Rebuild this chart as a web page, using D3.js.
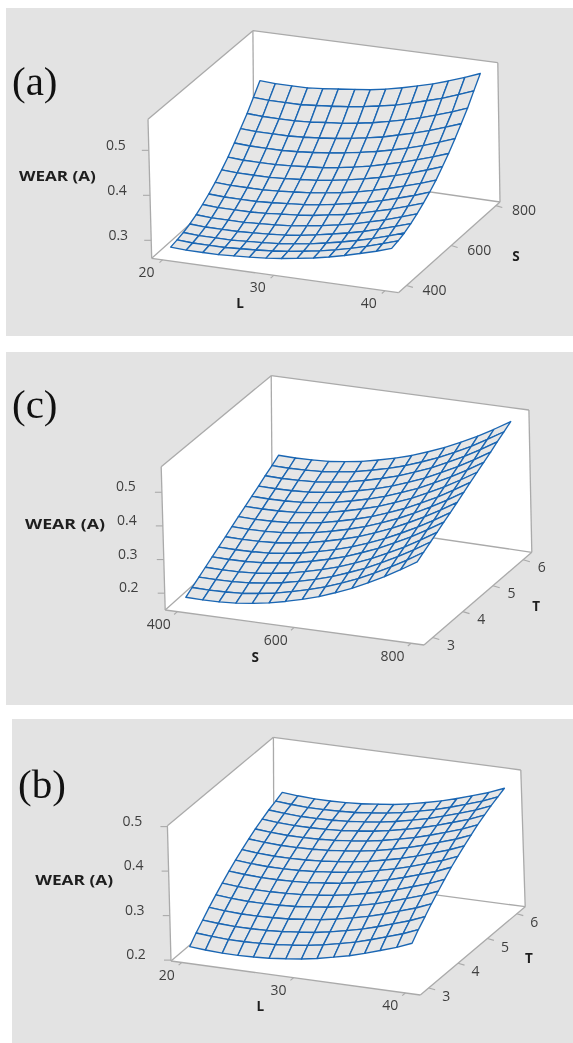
<!DOCTYPE html>
<html><head><meta charset="utf-8">
<script src="https://d3js.org/d3.v7.min.js"></script>
<style>html,body{margin:0;padding:0;background:#fff}svg{display:block}</style>
</head><body><svg id="c" width="573" height="1043"></svg>
<script>
const gridL=[20,21.4,22.9,24.3,25.7,27.1,28.6,30,31.4,32.9,34.3,35.7,37.1,38.6,40];
const gridS=[400,429,457,486,514,543,571,600,629,657,686,714,743,771,800];
const gridT=[3,3.21,3.43,3.64,3.86,4.07,4.29,4.5,4.71,4.93,5.14,5.36,5.57,5.79,6];
const ticksL=[20,30,40], ticksS=[400,600,800], ticksT=[3,4,5,6];
const ticksWearA=[0.3,0.4,0.5], ticksWear=[0.2,0.3,0.4,0.5];

// WEAR (A) over L (columns) and S (rows, 400 -> 800)
const wearLS=[
[.272,.270,.270,.270,.272,.274,.277,.281,.286,.292,.299,.307,.316,.326,.337],
[.275,.273,.273,.273,.275,.277,.280,.284,.289,.295,.302,.310,.319,.330,.341],
[.279,.277,.277,.277,.279,.281,.284,.288,.293,.300,.307,.315,.324,.335,.346],
[.285,.283,.283,.283,.285,.287,.290,.294,.300,.307,.314,.322,.332,.343,.354],
[.293,.291,.291,.291,.293,.295,.298,.303,.308,.315,.322,.331,.340,.352,.363],
[.303,.301,.301,.301,.303,.306,.309,.313,.319,.325,.333,.342,.351,.363,.374],
[.314,.312,.312,.312,.314,.317,.320,.324,.330,.337,.344,.353,.363,.374,.386],
[.327,.325,.325,.325,.327,.330,.333,.338,.343,.350,.358,.367,.377,.388,.400],
[.342,.340,.340,.340,.342,.345,.348,.353,.359,.366,.374,.383,.393,.405,.417],
[.358,.356,.356,.356,.358,.361,.364,.369,.375,.382,.391,.400,.410,.422,.434],
[.377,.375,.375,.375,.377,.380,.384,.389,.395,.402,.410,.419,.429,.442,.454],
[.397,.395,.395,.395,.397,.400,.404,.409,.415,.422,.431,.440,.450,.463,.475],
[.418,.416,.416,.416,.418,.422,.425,.430,.436,.444,.452,.461,.472,.484,.497],
[.442,.440,.440,.440,.443,.446,.450,.455,.461,.468,.477,.487,.497,.510,.523],
[.467,.465,.465,.465,.468,.472,.476,.480,.486,.494,.503,.512,.523,.536,.549]];

// WEAR (A) over S (columns) and T (rows, 3 -> 6)
const wearST=[
[.170,.169,.170,.173,.179,.187,.198,.211,.226,.244,.264,.287,.312,.339,.369],
[.182,.181,.182,.185,.191,.199,.210,.223,.238,.256,.276,.299,.324,.351,.381],
[.195,.194,.195,.198,.204,.212,.223,.236,.251,.269,.289,.312,.337,.364,.394],
[.207,.206,.207,.210,.216,.224,.235,.248,.263,.281,.301,.324,.349,.376,.406],
[.220,.219,.220,.223,.229,.237,.248,.261,.276,.294,.314,.337,.362,.389,.419],
[.232,.231,.232,.235,.241,.249,.260,.273,.288,.306,.326,.349,.374,.401,.431],
[.245,.244,.245,.248,.254,.262,.273,.286,.301,.319,.339,.362,.387,.414,.444],
[.258,.257,.258,.261,.267,.275,.286,.299,.314,.332,.352,.375,.400,.427,.457],
[.271,.270,.271,.274,.280,.288,.299,.312,.327,.345,.365,.388,.413,.440,.470],
[.284,.283,.284,.287,.293,.301,.312,.325,.340,.358,.378,.401,.426,.453,.483],
[.297,.296,.297,.300,.306,.314,.325,.338,.353,.371,.391,.414,.439,.466,.496],
[.310,.309,.310,.313,.319,.327,.338,.351,.366,.384,.404,.427,.452,.479,.509],
[.324,.323,.324,.327,.333,.341,.352,.365,.380,.398,.418,.441,.466,.493,.523],
[.337,.336,.337,.340,.346,.354,.365,.378,.393,.411,.431,.454,.479,.506,.536],
[.351,.350,.351,.354,.360,.368,.379,.392,.407,.425,.445,.468,.493,.520,.550]];

// WEAR (A) over L (columns) and T (rows, 3 -> 6)
const wearLT=[
[.218,.215,.213,.213,.214,.216,.220,.224,.230,.238,.246,.256,.267,.279,.293],
[.236,.233,.231,.231,.232,.234,.238,.242,.248,.256,.264,.274,.285,.297,.311],
[.252,.249,.247,.247,.248,.250,.254,.258,.264,.272,.280,.290,.301,.313,.327],
[.268,.265,.263,.263,.264,.266,.270,.274,.280,.288,.296,.306,.317,.329,.343],
[.283,.280,.278,.278,.279,.281,.285,.289,.295,.303,.311,.321,.332,.344,.358],
[.297,.294,.292,.292,.293,.295,.299,.303,.309,.317,.325,.335,.346,.358,.372],
[.311,.308,.306,.306,.307,.309,.313,.317,.323,.331,.339,.349,.360,.372,.386],
[.323,.320,.318,.318,.319,.321,.325,.329,.335,.343,.351,.361,.372,.384,.398],
[.334,.331,.329,.329,.330,.332,.336,.340,.346,.354,.362,.372,.383,.395,.409],
[.345,.342,.340,.340,.341,.343,.347,.351,.357,.365,.373,.383,.394,.406,.420],
[.355,.352,.350,.350,.351,.353,.357,.361,.367,.375,.383,.393,.404,.416,.430],
[.364,.361,.359,.359,.360,.362,.366,.370,.376,.384,.392,.402,.413,.425,.439],
[.372,.369,.367,.367,.368,.370,.374,.378,.384,.392,.400,.410,.421,.433,.447],
[.379,.376,.374,.374,.375,.377,.381,.385,.391,.399,.407,.417,.428,.440,.454],
[.386,.383,.381,.381,.382,.384,.388,.392,.398,.406,.414,.424,.435,.447,.461]];

const panels=[
 {tag:"(a)",tagXY:[12,95],bg:[6,8,567,328],xName:"L",yName:"S",
  gx:gridL,gy:gridS,z:wearLS,xt:ticksL,yt:ticksS,zt:ticksWearA,
  xDom:[20,40],xR:[.044,.945],yDom:[400,800],yR:[.08,.96],yTickR:[.08,.96],zDom:[.26,.569],
  fl:[151.7,258.3],fr:[398.4,292.7],br:[500,202],bl:[254,166.7],
  tfl:[148,119.3],tfr:[392.9,151.3],tbr:[497.8,62.7],tbl:[252.9,30.7],
  xOff:[-16,12],yOff:[28,4.5],zOff:[-33,-5],wear:[57.4,175.7],wearW:77,xLab:[240,302.7],yLab:[516,256]},
 {tag:"(c)",tagXY:[12,418],bg:[6,352,567,353],xName:"S",yName:"T",
  gx:gridS,gy:gridT,z:wearST,xt:ticksS,yt:ticksT,zt:ticksWear,
  xDom:[400,800],xR:[.047,.95],yDom:[3,6],yR:[.08,.95],yTickR:[.08,.92],zDom:[.15,.576],
  fl:[165.2,610],fr:[424,645],br:[531.8,552.3],bl:[272.3,514.3],
  tfl:[161.2,466.7],tfr:[418.9,501],tbr:[528.9,410],tbl:[271.2,375.7],
  xOff:[-18.5,12.5],yOff:[18.5,7.5],zOff:[-36,-6],wear:[65,524.3],wearW:80,xLab:[255.1,656.7],yLab:[536.2,605.7]},
 {tag:"(b)",tagXY:[18,798],bg:[12,719,561,324],xName:"L",yName:"T",
  gx:gridL,gy:gridT,z:wearLT,xt:ticksL,yt:ticksT,zt:ticksWear,
  xDom:[20,40],xR:[.043,.94],yDom:[3,6],yR:[.08,.98],yTickR:[.08,.92],zDom:[.198,.502],
  fl:[171,961],fr:[420.3,995],br:[525.2,906.7],bl:[274,873.3],
  tfl:[167.4,825.7],tfr:[414.8,858.4],tbr:[520.8,770],tbl:[273.4,737.3],
  xOff:[-15,12],yOff:[17.5,8],zOff:[-35,-6],wear:[74.2,880],wearW:78,xLab:[260.2,1006],yLab:[528.9,958.3]}
];

const svg=d3.select("#c");
const tickFont='"Open Sans",sans-serif', boxCol="#aaaaaa", tickTextCol="#3f3f3f";
const line=d3.line();

panels.forEach(p=>{
  const g=svg.append("g").style("filter","blur(0.3px)");
  const [bx,by,bw,bh]=p.bg;
  g.append("rect").attr("x",bx).attr("y",by).attr("width",bw).attr("height",bh).attr("fill","#e3e3e3");
  const sx=d3.scaleLinear().domain(p.xDom).range(p.xR);
  const sy=d3.scaleLinear().domain(p.yDom).range(p.yR);
  const syTick=d3.scaleLinear().domain(p.yDom).range(p.yTickR);
  const sz=d3.scaleLinear().domain(p.zDom).range([0,1]);
  const fu=d3.scaleLinear().domain([0,1]);
  const proj=(u,v,w)=>{
    const base=k=>{
      const front=fu.copy().range([p.fl[k],p.fr[k]])(u), back=fu.copy().range([p.bl[k],p.br[k]])(u);
      const tfront=fu.copy().range([p.tfl[k],p.tfr[k]])(u), tback=fu.copy().range([p.tbl[k],p.tbr[k]])(u);
      const lo=fu.copy().range([front,back])(v), hi=fu.copy().range([tfront,tback])(v);
      return fu.copy().range([lo,hi])(w);
    };
    return [base(0),base(1)];
  };
  // box
  g.append("path").attr("d",line([p.tfl,p.tbl,p.tbr,p.br,p.fr,p.fl])+"Z").attr("fill","#fff");
  const edges=[[p.tfl,p.tbl],[p.tbl,p.tbr],[p.tbr,p.br],[p.tbl,p.bl],[p.tfl,p.fl],[p.fl,p.fr],[p.fr,p.br],[p.br,p.bl],[p.bl,p.fl]];
  g.append("g").selectAll("path").data(edges).join("path").attr("d",d=>line(d))
    .attr("fill","none").attr("stroke",boxCol).attr("stroke-width",1.3);
  // ticks
  const tg=g.append("g").attr("stroke",boxCol).attr("stroke-width",1.1).attr("fill","none");
  tg.selectAll(".x").data(p.xt).join("path").attr("d",t=>line([proj(sx(t),0,0),proj(sx(t),-.03,0)]));
  tg.selectAll(".y").data(p.yt).join("path").attr("d",t=>line([proj(1,syTick(t),0),proj(1.03,syTick(t)-.01,0)]));
  tg.selectAll(".z").data(p.zt).join("path").attr("d",t=>{const a=proj(0,0,sz(t));return line([a,[a[0]-7,a[1]]]);});
  // surface: painter's order, back row first
  const P=(i,j)=>proj(sx(p.gx[i]),sy(p.gy[j]),sz(p.z[j][i]));
  const cells=[];
  for(let j=p.gy.length-2;j>=0;j--)for(let i=0;i<p.gx.length-1;i++)cells.push([P(i,j),P(i+1,j),P(i+1,j+1),P(i,j+1)]);
  g.append("g").selectAll("path").data(cells).join("path").attr("d",d=>line(d)+"Z")
    .attr("fill","#e6e6e6").attr("stroke","#1a66b3").attr("stroke-width",1.35).attr("stroke-linejoin","round");
  // labels
  const txt=(xy,s)=>g.append("text").attr("x",xy[0]).attr("y",xy[1]).attr("dy",".36em").attr("text-anchor","middle")
    .attr("font-family",tickFont).attr("font-size",14).attr("fill",tickTextCol).text(s);
  const bold=(xy,s,len)=>{const t=g.append("text").attr("x",xy[0]).attr("y",xy[1]).attr("dy",".36em").attr("text-anchor","middle")
    .attr("font-family",tickFont).attr("font-size",13.5).attr("font-weight",700).attr("fill","#1e1e1e").text(s);
    if(len)t.attr("textLength",len).attr("lengthAdjust","spacingAndGlyphs");};
  p.xt.forEach(t=>{const a=proj(sx(t),0,0);txt([a[0]+p.xOff[0],a[1]+p.xOff[1]],t);});
  p.yt.forEach(t=>{const a=proj(1,syTick(t),0);txt([a[0]+p.yOff[0],a[1]+p.yOff[1]],t);});
  p.zt.forEach(t=>{const a=proj(0,0,sz(t));txt([a[0]+p.zOff[0],a[1]+p.zOff[1]],d3.format(".1f")(t));});
  bold(p.wear,"WEAR (A)",p.wearW);
  bold(p.xLab,p.xName);
  bold(p.yLab,p.yName);
  g.append("text").attr("x",p.tagXY[0]).attr("y",p.tagXY[1]).attr("font-family",'"Liberation Serif",serif')
    .attr("font-size",41).attr("fill","#111").text(p.tag);
});
</script></body></html>
